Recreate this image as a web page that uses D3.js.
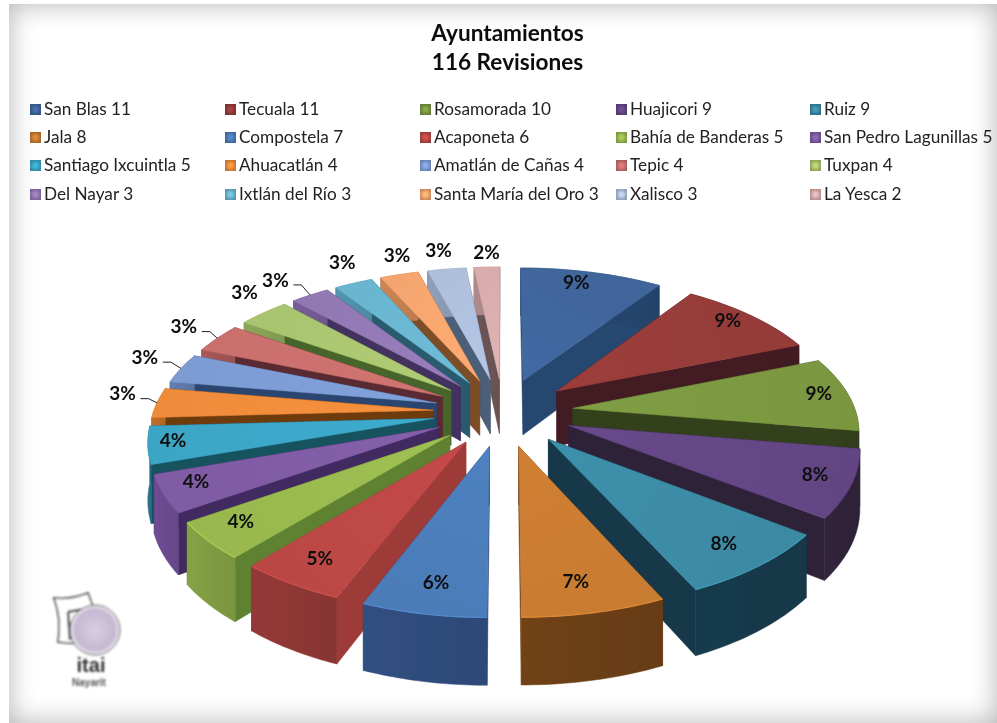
<!DOCTYPE html>
<html>
<head>
<meta charset="utf-8">
<script src="https://cdn.jsdelivr.net/npm/d3@7"></script>
<style>
    html, body { margin: 0; padding: 0; background: #fff; overflow: hidden; }
    #frame { position: absolute; left: 9px; top: 4px; width: 988px; height: 719px;
             box-shadow: inset 0 0 26px 1px #b8b8b8; }
    svg { position: absolute; left: 0; top: 0; }
</style>
</head>
<body>
<div id="frame"></div>
<div id="chart"></div>
<script>
// data, legend order
const names = ['San Blas', 'Tecuala', 'Rosamorada', 'Huajicori', 'Ruiz',
    'Jala', 'Compostela', 'Acaponeta', 'Bahía de Banderas', 'San Pedro Lagunillas',
    'Santiago Ixcuintla', 'Ahuacatlán', 'Amatlán de Cañas', 'Tepic', 'Tuxpan',
    'Del Nayar', 'Ixtlán del Río', 'Santa María del Oro', 'Xalisco', 'La Yesca'];
const revisiones = [11, 11, 10, 9, 9, 8, 7, 6, 5, 5, 5, 4, 4, 4, 4, 3, 3, 3, 3, 2];
const titleLines = ['Ayuntamientos', '116 Revisiones'];

// colours: top face, radial wall, outer wall
const topColors = ['#3f659b', '#953b39', '#7a9741', '#634584', '#3b8aa4',
    '#c87b31', '#4b7cb8', '#bb4745', '#98b84f', '#7f5ba3',
    '#3ba5c5', '#ee8b3a', '#7d9bd3', '#c96f6d', '#a9c46f',
    '#9278b3', '#6ab5cf', '#f4a56e', '#aebfdc', '#d8acac'];
const wallColors = ['#264670', '#431d22', '#333f1c', '#2f2239', '#17394a',
    '#6b3f16', '#2e4a78', '#9c3a38', '#5e8233', '#3f2a60',
    '#17525f', '#6e3a10', '#2a4570', '#5a2a30', '#47652a',
    '#43305e', '#2a5a6d', '#7c4d28', '#4c5e78', '#6a5252'];
const outerColors = ['#264670', '#431d22', '#333f1c', '#2f2239', '#17394a',
    '#6b3f16', '#2f4c7c', '#8e3735', '#7f9c42', '#6b4a8e',
    '#2a6f86', '#b86a28', '#5f78a8', '#a05553', '#86a055',
    '#735a92', '#4f90a8', '#c47f50', '#8a98b2', '#a88585'];

// label placement: distance along the slice's middle as a share of the radius,
// then a small shift to sit where the original put it
const labelRadius = [0.86, 0.86, 0.86, 0.84, 0.8, 0.78, 0.72, 0.72, 0.78, 0.84,
    0.88, 1.17, 1.16, 1.16, 1.17, 1.2, 1.17, 1.16, 1.14, 1.13];
const labelNudge = [[-7, -4], [2, -5], [9, -3], [11, 0], [11, 5], [0, 10], [-8, 21], [-25, 18], [-25, 6], [-14, -1],
    [-10, -2], [12, -8], [3, -6], [0, -3], [10, -9], [-8, 1], [6, -6], [9, -4], [-3, -5], [1, -2]];
const hasLeader = [11, 12, 13, 15];

const width = 997, height = 723;
const fontFamily = 'Lato, "Open Sans", sans-serif';

// pie geometry
const cx = 503, cy = 412;
const radius = 285, explode = 71, thickness = 56;
const tilt = 0.4786, persp = 0.00049;

// the left half of the original is a little narrower than the right
const screenX = d3.scaleLinear().domain([-400, 0, 400]).range([cx - 393, cx, cx + 397]);

function project(x, y, z) {
    let p = 1 / (1 - y * persp);
    return [screenX(x * p), cy + y * tilt * p + z * p];
}

// point on a slice: r from the slice's tip, at angle a, z below the top face
function slicePoint(d, r, a, z) {
    let ox = explode * Math.sin(d.mid), oy = -explode * Math.cos(d.mid);
    return project(ox + r * Math.sin(a), oy - r * Math.cos(a), z);
}

const pie = d3.pie().sort(null).value(function (d) { return d; });
const slices = pie(revisiones).map(function (d, i) {
    d.i = i;
    d.mid = (d.startAngle + d.endAngle) / 2;
    return d;
});
const total = d3.sum(revisiones);

const svg = d3.select('#chart').append('svg')
    .attr('width', width)
    .attr('height', height);
const defs = svg.append('defs');

defs.append('filter').attr('id', 'soft')
    .append('feGaussianBlur').attr('stdDeviation', 0.4);
defs.append('filter').attr('id', 'logoBlur')
    .append('feGaussianBlur').attr('stdDeviation', 0.8);

const root = svg.append('g').attr('filter', 'url(#soft)');

// title
root.selectAll('text.title')
    .data(titleLines)
    .enter()
    .append('text')
    .attr('class', 'title')
    .attr('x', 507.5)
    .attr('y', function (d, i) { return 41 + i * 29; })
    .attr('text-anchor', 'middle')
    .attr('font-family', fontFamily)
    .attr('font-weight', 700)
    .attr('font-size', 22.6)
    .attr('fill', '#111')
    .text(function (d) { return d; });

// legend, 5 columns 4 rows
const legendX = d3.scaleOrdinal().domain(d3.range(5)).range([30, 225, 420, 616, 810]);
const legendY = d3.scaleOrdinal().domain(d3.range(4)).range([109, 137, 165, 194]);

names.forEach(function (n, i) {
    let grad = defs.append('radialGradient').attr('id', 'sw' + i);
    grad.append('stop').attr('offset', '30%').attr('stop-color', d3.color(topColors[i]).brighter(0.3));
    grad.append('stop').attr('offset', '100%').attr('stop-color', d3.color(topColors[i]).darker(0.5));
});

const legend = root.selectAll('g.legend')
    .data(names)
    .enter()
    .append('g')
    .attr('class', 'legend')
    .attr('transform', function (d, i) {
        return 'translate(' + legendX(i % 5) + ',' + legendY(Math.floor(i / 5)) + ')';
    });

legend.append('rect')
    .attr('x', 0)
    .attr('y', -5)
    .attr('width', 11)
    .attr('height', 11)
    .attr('fill', function (d, i) { return 'url(#sw' + i + ')'; });

legend.append('text')
    .attr('x', 14)
    .attr('y', 6)
    .attr('font-family', fontFamily)
    .attr('font-size', 17.2)
    .attr('fill', '#222')
    .text(function (d, i) { return d + ' ' + revisiones[i]; });

// the pie, back slices first
const line = d3.line();
const pieG = root.append('g').attr('class', 'pie');
const drawOrder = slices.slice().sort(function (a, b) {
    return d3.descending(Math.cos(a.mid), Math.cos(b.mid));
});

function arcPoints(d, z) {
    let steps = 24;
    return d3.range(steps + 1).map(function (s) {
        let a = d.startAngle + (d.endAngle - d.startAngle) * s / steps;
        return slicePoint(d, radius, a, z);
    });
}

function radialWall(d, a) {
    return [slicePoint(d, 0, a, 0), slicePoint(d, radius, a, 0),
        slicePoint(d, radius, a, thickness), slicePoint(d, 0, a, thickness)];
}

drawOrder.forEach(function (d) {
    let i = d.i;
    let g = pieG.append('g').attr('class', 'slice');
    let top = arcPoints(d, 0);
    let bottom = arcPoints(d, thickness);
    let tip = slicePoint(d, 0, 0, 0);

    // gradients for the top face and the outer wall
    let xs = d3.extent(top, function (p) { return p[0]; });
    let topGrad = defs.append('linearGradient').attr('id', 'top' + i)
        .attr('gradientUnits', 'userSpaceOnUse')
        .attr('x1', tip[0]).attr('y1', tip[1])
        .attr('x2', top[12][0]).attr('y2', top[12][1]);
    topGrad.append('stop').attr('offset', '0%').attr('stop-color', d3.color(topColors[i]).brighter(0.12));
    topGrad.append('stop').attr('offset', '100%').attr('stop-color', topColors[i]);

    let outerGrad = defs.append('linearGradient').attr('id', 'outer' + i)
        .attr('gradientUnits', 'userSpaceOnUse')
        .attr('x1', xs[0]).attr('y1', 0)
        .attr('x2', xs[1]).attr('y2', 0);
    outerGrad.append('stop').attr('offset', '0%').attr('stop-color', d3.color(outerColors[i]).brighter(0.12));
    outerGrad.append('stop').attr('offset', '100%').attr('stop-color', d3.color(outerColors[i]).darker(0.12));

    // radial walls, the one further back first
    let walls = [d.startAngle, d.endAngle].sort(function (a, b) {
        return d3.descending(Math.cos(a), Math.cos(b));
    });
    walls.forEach(function (a) {
        g.append('path')
            .attr('d', line(radialWall(d, a)) + 'Z')
            .attr('fill', wallColors[i])
            .attr('stroke', wallColors[i])
            .attr('stroke-width', 0.5);
    });

    // outer wall
    g.append('path')
        .attr('d', line(top.concat(bottom.slice().reverse())) + 'Z')
        .attr('fill', 'url(#outer' + i + ')')
        .attr('stroke', outerColors[i])
        .attr('stroke-width', 0.5);

    // top face
    g.append('path')
        .attr('d', line([tip].concat(top)) + 'Z')
        .attr('fill', 'url(#top' + i + ')')
        .attr('stroke', topColors[i])
        .attr('stroke-width', 0.5);

    // small highlight along the rim on the front slices
    if (Math.cos(d.mid) < -0.5) {
        g.append('path')
            .attr('d', line(top))
            .attr('fill', 'none')
            .attr('stroke', d3.color(topColors[i]).brighter(0.3))
            .attr('stroke-width', 1.2);
    }
});

// percent labels
function labelPos(d) {
    let p = slicePoint(d, radius * labelRadius[d.i], d.mid, 0);
    return [p[0] + labelNudge[d.i][0], p[1] + labelNudge[d.i][1]];
}

root.selectAll('path.leader')
    .data(slices.filter(function (d) { return hasLeader.indexOf(d.i) >= 0; }))
    .enter()
    .append('path')
    .attr('class', 'leader')
    .attr('fill', 'none')
    .attr('stroke', '#222')
    .attr('stroke-width', 1)
    .attr('d', function (d) {
        let l = labelPos(d);
        let e = slicePoint(d, radius, d.mid, 0);
        return line([[l[0] + 18, l[1] + 5], [l[0] + 26, l[1] + 5], e]);
    });

root.selectAll('text.pct')
    .data(slices)
    .enter()
    .append('text')
    .attr('class', 'pct')
    .attr('x', function (d) { return labelPos(d)[0]; })
    .attr('y', function (d) { return labelPos(d)[1]; })
    .attr('dy', '0.35em')
    .attr('text-anchor', 'middle')
    .attr('font-family', fontFamily)
    .attr('font-weight', 700)
    .attr('font-size', 19)
    .attr('fill', '#111')
    .text(function (d) { return Math.round(d.value / total * 100) + '%'; });

// logo bottom left
const logo = svg.append('g').attr('class', 'logo').attr('filter', 'url(#logoBlur)');
const logoGrad = defs.append('radialGradient').attr('id', 'logoBall');
logoGrad.append('stop').attr('offset', '0%').attr('stop-color', '#d8cfe2');
logoGrad.append('stop').attr('offset', '80%').attr('stop-color', '#c4b8d2');
logoGrad.append('stop').attr('offset', '100%').attr('stop-color', '#f0edf3');
logo.append('path')
    .attr('d', 'M54,598 Q70,600 88,593 L93,607 L90,645 L58,642 Q62,620 54,598Z')
    .attr('fill', '#fff')
    .attr('stroke', '#333')
    .attr('stroke-width', 1.6);
logo.append('path')
    .attr('d', 'M68,612 L84,609 M68,612 L70,640 M70,624 L82,622')
    .attr('fill', 'none')
    .attr('stroke', '#444')
    .attr('stroke-width', 2.5);
logo.append('circle')
    .attr('cx', 95)
    .attr('cy', 630)
    .attr('r', 25)
    .attr('fill', 'url(#logoBall)')
    .attr('stroke', '#555')
    .attr('stroke-width', 1);
logo.append('text')
    .attr('x', 91)
    .attr('y', 672)
    .attr('text-anchor', 'middle')
    .attr('font-family', 'Liberation Sans, sans-serif')
    .attr('font-weight', 700)
    .attr('font-size', 20)
    .attr('fill', '#333')
    .text('itai');
logo.append('text')
    .attr('x', 89)
    .attr('y', 686)
    .attr('text-anchor', 'middle')
    .attr('font-family', 'Liberation Sans, sans-serif')
    .attr('font-weight', 700)
    .attr('font-size', 10)
    .attr('fill', '#555')
    .text('Nayarit');
</script>
</body>
</html>
